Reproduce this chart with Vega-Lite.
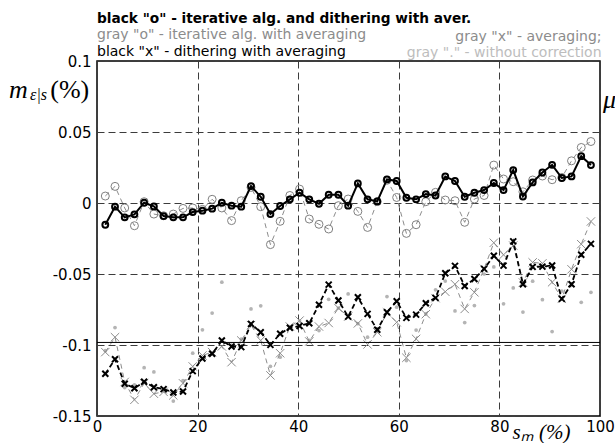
{
  "$schema": "https://vega.github.io/schema/vega-lite/v6.json",
  "width": 503,
  "height": 355,
  "autosize": {"type": "none"},
  "padding": {"left": 97, "top": 61, "right": 15, "bottom": 27},
  "background": "white",
  "config": {
    "view": {"stroke": "#000", "strokeWidth": 1.5},
    "axis": {
      "domain": false, "ticks": false, "grid": true,
      "gridColor": "#3c3c3c", "gridDash": [7, 4], "gridWidth": 1,
      "labelFont": "DejaVu Sans", "labelFontSize": 15, "labelColor": "#000",
      "labelFlush": false, "labelOverlap": false
    }
  },
  "datasets": {
    "series": [
      {"x": 1.65, "bo": -0.0153, "go": 0.0049, "bx": -0.1203, "gx": -0.1050, "gd": -0.1040},
      {"x": 3.58, "bo": -0.0026, "go": 0.0117, "bx": -0.1100, "gx": -0.0945, "gd": -0.0877},
      {"x": 5.51, "bo": -0.0101, "go": -0.0035, "bx": -0.1273, "gx": -0.1260, "gd": -0.1300},
      {"x": 7.44, "bo": -0.0080, "go": -0.0160, "bx": -0.1304, "gx": -0.1386, "gd": -0.1280},
      {"x": 9.37, "bo": 0.0002, "go": 0.0009, "bx": -0.1259, "gx": -0.1270, "gd": -0.1160},
      {"x": 11.31, "bo": -0.0024, "go": -0.0078, "bx": -0.1297, "gx": -0.1343, "gd": -0.1190},
      {"x": 13.24, "bo": -0.0092, "go": -0.0090, "bx": -0.1311, "gx": -0.1330, "gd": -0.1310},
      {"x": 15.17, "bo": -0.0101, "go": -0.0078, "bx": -0.1334, "gx": -0.1355, "gd": -0.1395},
      {"x": 17.10, "bo": -0.0101, "go": -0.0038, "bx": -0.1327, "gx": -0.1270, "gd": -0.1250},
      {"x": 19.03, "bo": -0.0064, "go": -0.0035, "bx": -0.1184, "gx": -0.1151, "gd": -0.1058},
      {"x": 20.96, "bo": -0.0054, "go": -0.0045, "bx": -0.1095, "gx": -0.1074, "gd": -0.0893},
      {"x": 22.89, "bo": -0.0040, "go": 0.0026, "bx": -0.1062, "gx": -0.1050, "gd": -0.0775},
      {"x": 24.82, "bo": 0.0002, "go": -0.0035, "bx": -0.0968, "gx": -0.1010, "gd": -0.0558},
      {"x": 26.75, "bo": -0.0019, "go": -0.0124, "bx": -0.1011, "gx": -0.1121, "gd": -0.1000},
      {"x": 28.68, "bo": -0.0026, "go": 0.0016, "bx": -0.1015, "gx": -0.0968, "gd": -0.0958},
      {"x": 30.62, "bo": 0.0119, "go": 0.0110, "bx": -0.0851, "gx": -0.0860, "gd": -0.0746},
      {"x": 32.55, "bo": 0.0044, "go": -0.0026, "bx": -0.0910, "gx": -0.0968, "gd": -0.0724},
      {"x": 34.48, "bo": -0.0078, "go": -0.0293, "bx": -0.0999, "gx": -0.1214, "gd": -0.1150},
      {"x": 36.41, "bo": -0.0021, "go": -0.0129, "bx": -0.0921, "gx": -0.1058, "gd": -0.1086},
      {"x": 38.34, "bo": 0.0026, "go": 0.0053, "bx": -0.0879, "gx": -0.0870, "gd": -0.0870},
      {"x": 40.27, "bo": 0.0072, "go": 0.0098, "bx": -0.0866, "gx": -0.0828, "gd": -0.0830},
      {"x": 42.20, "bo": 0.0026, "go": -0.0113, "bx": -0.0847, "gx": -0.0975, "gd": -0.0968},
      {"x": 44.13, "bo": -0.0005, "go": -0.0150, "bx": -0.0716, "gx": -0.0870, "gd": -0.0898},
      {"x": 46.06, "bo": 0.0058, "go": -0.0183, "bx": -0.0575, "gx": -0.0845, "gd": -0.0678},
      {"x": 47.99, "bo": 0.0058, "go": -0.0019, "bx": -0.0687, "gx": -0.0740, "gd": -0.0740},
      {"x": 49.93, "bo": -0.0019, "go": 0.0028, "bx": -0.0800, "gx": -0.0800, "gd": -0.0640},
      {"x": 51.86, "bo": 0.0138, "go": -0.0059, "bx": -0.0664, "gx": -0.0848, "gd": -0.0850},
      {"x": 53.79, "bo": 0.0026, "go": -0.0172, "bx": -0.0781, "gx": -0.0996, "gd": -0.0945},
      {"x": 55.72, "bo": 0.0011, "go": 0.0010, "bx": -0.0893, "gx": -0.0910, "gd": -0.0900},
      {"x": 57.65, "bo": 0.0166, "go": 0.0160, "bx": -0.0769, "gx": -0.0770, "gd": -0.0659},
      {"x": 59.58, "bo": 0.0155, "go": 0.0039, "bx": -0.0692, "gx": -0.0840, "gd": -0.0734},
      {"x": 61.51, "bo": 0.0037, "go": -0.0214, "bx": -0.0809, "gx": -0.1090, "gd": -0.1110},
      {"x": 63.44, "bo": 0.0026, "go": -0.0153, "bx": -0.0786, "gx": -0.0957, "gd": -0.0895},
      {"x": 65.37, "bo": 0.0063, "go": 0.0009, "bx": -0.0706, "gx": -0.0783, "gd": -0.0780},
      {"x": 67.30, "bo": 0.0053, "go": 0.0075, "bx": -0.0668, "gx": -0.0670, "gd": -0.0611},
      {"x": 69.24, "bo": 0.0187, "go": 0.0021, "bx": -0.0495, "gx": -0.0625, "gd": -0.0550},
      {"x": 71.17, "bo": 0.0155, "go": 0.0016, "bx": -0.0443, "gx": -0.0572, "gd": -0.0760},
      {"x": 73.10, "bo": 0.0044, "go": -0.0136, "bx": -0.0584, "gx": -0.0746, "gd": -0.0842},
      {"x": 75.03, "bo": 0.0072, "go": 0.0028, "bx": -0.0535, "gx": -0.0629, "gd": -0.0722},
      {"x": 76.96, "bo": 0.0091, "go": 0.0053, "bx": -0.0464, "gx": -0.0464, "gd": -0.0500},
      {"x": 78.89, "bo": 0.0141, "go": 0.0267, "bx": -0.0372, "gx": -0.0280, "gd": -0.0450},
      {"x": 80.82, "bo": 0.0091, "go": 0.0169, "bx": -0.0441, "gx": -0.0365, "gd": -0.0710},
      {"x": 82.75, "bo": 0.0232, "go": 0.0150, "bx": -0.0270, "gx": -0.0300, "gd": -0.0598},
      {"x": 84.68, "bo": 0.0046, "go": 0.0079, "bx": -0.0572, "gx": -0.0560, "gd": -0.0768},
      {"x": 86.61, "bo": 0.0145, "go": 0.0162, "bx": -0.0450, "gx": -0.0418, "gd": -0.0551},
      {"x": 88.55, "bo": 0.0215, "go": 0.0190, "bx": -0.0448, "gx": -0.0425, "gd": -0.0681},
      {"x": 90.48, "bo": 0.0269, "go": 0.0164, "bx": -0.0440, "gx": -0.0558, "gd": -0.0905},
      {"x": 92.41, "bo": 0.0176, "go": 0.0180, "bx": -0.0675, "gx": -0.0675, "gd": -0.0620},
      {"x": 94.34, "bo": 0.0187, "go": 0.0297, "bx": -0.0572, "gx": -0.0467, "gd": -0.0580},
      {"x": 96.27, "bo": 0.0330, "go": 0.0391, "bx": -0.0364, "gx": -0.0290, "gd": -0.0699},
      {"x": 98.20, "bo": 0.0267, "go": 0.0433, "bx": -0.0288, "gx": -0.0130, "gd": -0.0629}
    ],
    "one": [{}]
  },
  "layer": [
    {
      "data": {"name": "series"},
      "transform": [{"fold": ["bo", "go", "bx", "gx", "gd"], "as": ["s", "v"]}],
      "encoding": {
        "x": {
          "field": "x", "type": "quantitative",
          "scale": {"domain": [0, 100], "nice": false, "zero": false},
          "axis": {
            "values": [0, 20, 40, 60, 80, 100], "labelPadding": 3,
            "title": "sₘ (%)", "titleFont": "Liberation Serif", "titleFontStyle": "italic",
            "titleFontWeight": "normal", "titleFontSize": 21, "titleColor": "#000",
            "titleX": 444, "titleY": 22, "titleAlign": "center", "titleBaseline": "alphabetic"
          }
        },
        "y": {
          "field": "v", "type": "quantitative",
          "scale": {"domain": [-0.15, 0.1], "nice": false, "zero": false},
          "axis": {
            "values": [-0.15, -0.1, -0.05, 0, 0.05, 0.1], "labelPadding": 6,
            "labelExpr": "'' + datum.value", "title": null
          }
        }
      },
      "layer": [
        {"transform": [{"filter": "datum.s == 'gd'"}],
         "mark": {"type": "point", "shape": "circle", "filled": true, "size": 14, "color": "#b4b4b4", "opacity": 1}},
        {"transform": [{"filter": "datum.s == 'gx'"}],
         "mark": {"type": "line", "color": "#8c8c8c", "strokeWidth": 1, "strokeDash": [5, 4]}},
        {"transform": [{"filter": "datum.s == 'gx'"}],
         "mark": {"type": "point", "shape": "M-1,-1L1,1M-1,1L1,-1", "size": 70, "filled": false, "color": "#8c8c8c", "strokeWidth": 1, "opacity": 1}},
        {"transform": [{"filter": "datum.s == 'go'"}],
         "mark": {"type": "line", "color": "#8c8c8c", "strokeWidth": 1, "strokeDash": [5, 4]}},
        {"transform": [{"filter": "datum.s == 'go'"}],
         "mark": {"type": "point", "shape": "circle", "size": 64, "filled": false, "color": "#808080", "strokeWidth": 1, "opacity": 1}},
        {"transform": [{"filter": "datum.s == 'bx'"}],
         "mark": {"type": "line", "color": "#000", "strokeWidth": 1.8, "strokeDash": [5, 3]}},
        {"transform": [{"filter": "datum.s == 'bx'"}],
         "mark": {"type": "point", "shape": "M-1,-1L1,1M-1,1L1,-1", "size": 36, "filled": false, "color": "#000", "strokeWidth": 2, "opacity": 1}},
        {"transform": [{"filter": "datum.s == 'bo'"}],
         "mark": {"type": "line", "color": "#000", "strokeWidth": 2}},
        {"transform": [{"filter": "datum.s == 'bo'"}],
         "mark": {"type": "point", "shape": "circle", "size": 34, "filled": false, "color": "#000", "strokeWidth": 2, "opacity": 1}}
      ]
    },
    {"data": {"name": "one"},
     "mark": {"type": "rule", "color": "#000", "strokeWidth": 1},
     "encoding": {"x": {"datum": 0}, "x2": {"datum": 100}, "y": {"datum": -0.0982}}},
    {"data": {"name": "one"},
     "mark": {"type": "text", "text": "black \"o\" - iterative alg. and dithering with aver.", "align": "left", "baseline": "alphabetic", "font": "DejaVu Sans", "fontSize": 13.7, "fontWeight": "bold", "color": "#000"},
     "encoding": {"x": {"datum": 0}, "y": {"datum": 0.1268}}},
    {"data": {"name": "one"},
     "mark": {"type": "text", "text": "gray \"o\" - iterative alg. with averaging", "align": "left", "baseline": "alphabetic", "font": "DejaVu Sans", "fontSize": 14, "color": "#8c8c8c"},
     "encoding": {"x": {"datum": 0}, "y": {"datum": 0.1155}}},
    {"data": {"name": "one"},
     "mark": {"type": "text", "text": "black \"x\" - dithering with averaging", "align": "left", "baseline": "alphabetic", "font": "DejaVu Sans", "fontSize": 14, "color": "#000"},
     "encoding": {"x": {"datum": 0}, "y": {"datum": 0.1035}}},
    {"data": {"name": "one"},
     "mark": {"type": "text", "text": "gray \"x\" - averaging;", "align": "right", "baseline": "alphabetic", "font": "DejaVu Sans", "fontSize": 14, "color": "#8c8c8c"},
     "encoding": {"x": {"datum": 100.3}, "y": {"datum": 0.1141}}},
    {"data": {"name": "one"},
     "mark": {"type": "text", "text": "gray \".\" - without correction", "align": "right", "baseline": "alphabetic", "font": "DejaVu Sans", "fontSize": 14, "color": "#bdbdbd"},
     "encoding": {"x": {"datum": 100.3}, "y": {"datum": 0.1028}}},
    {"data": {"name": "one"},
     "mark": {"type": "text", "text": "m", "align": "left", "baseline": "alphabetic", "font": "Liberation Serif", "fontStyle": "italic", "fontSize": 26, "color": "#000"},
     "encoding": {"x": {"datum": -17.5}, "y": {"datum": 0.0737}}},
    {"data": {"name": "one"},
     "mark": {"type": "text", "text": "ε|s", "align": "left", "baseline": "alphabetic", "font": "Liberation Serif", "fontStyle": "italic", "fontSize": 16, "color": "#000"},
     "encoding": {"x": {"datum": -13.3}, "y": {"datum": 0.0725}}},
    {"data": {"name": "one"},
     "mark": {"type": "text", "text": "(%)", "align": "left", "baseline": "alphabetic", "font": "Liberation Serif", "fontSize": 26, "color": "#000"},
     "encoding": {"x": {"datum": -9.3}, "y": {"datum": 0.0737}}},
    {"data": {"name": "one"},
     "mark": {"type": "text", "text": "μ", "align": "left", "baseline": "alphabetic", "font": "Liberation Serif", "fontStyle": "italic", "fontSize": 26, "color": "#000"},
     "encoding": {"x": {"datum": 100.6}, "y": {"datum": 0.0669}}}
  ]
}
